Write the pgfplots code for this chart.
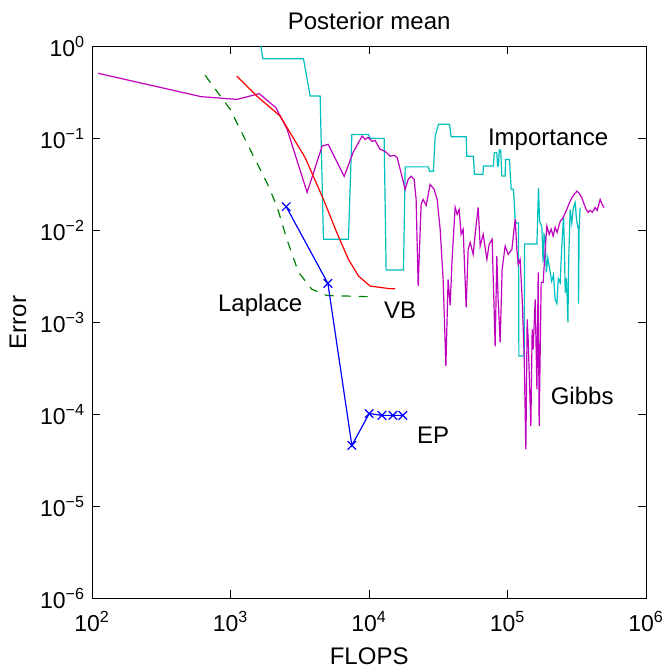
\documentclass[border=0pt]{standalone}
\usepackage{fontspec}
\setmainfont{Liberation Sans}
\usepackage{pgfplots}
\pgfplotsset{compat=1.18}
\definecolor{mmag}{rgb}{0.75,0,0.75}
\definecolor{mcyan}{rgb}{0,0.75,0.75}
\definecolor{mgreen}{rgb}{0,0.5,0}
\newcommand\logtick{\pgfmathtruncatemacro\ee{round(\tick)}\ifnum\ee<0 10\textsuperscript{\char"2212\relax\the\numexpr-\ee\relax}\else 10\textsuperscript{\ee}\fi}
\begin{document}
\begin{tikzpicture}
\begin{axis}[
  scale only axis, width=277pt, height=276pt,
  xmode=log, ymode=log, log basis x=10, log basis y=10,
  xmin=100, xmax=1e6, ymin=1e-6, ymax=1,
  font=\fontsize{12}{14}\selectfont,
  ticklabel style={font=\fontsize{11.5}{13}\selectfont},
  title={Posterior mean}, xlabel={FLOPS}, ylabel={Error},
  title style={yshift=-1pt},
  xlabel style={yshift=-1pt},
  xticklabel={\logtick},
  yticklabel={\logtick},
  xticklabel style={yshift=-3pt},
  xtick={100,1000,10000,100000,1000000},
  ytick={1e-6,1e-5,1e-4,1e-3,1e-2,1e-1,1},
  tick align=inside, major tick length=4pt, minor tick length=2pt,
  every tick/.style={black, line width=0.4pt},
  axis line style={line width=0.6pt},
  clip=true,
]
% Importance
\addplot[mcyan, line width=0.6pt] coordinates {
(1589,1.5)(1708,0.734)(3355,0.734)(3750,0.288)(4426,0.288)(4677,0.008)(7088,0.008)
(7500,0.11)(9886,0.11)(10165,0.1)(12826,0.1)(13262,0.0037)(17690,0.0037)
(18200,0.049)(26800,0.049)(27250,0.044)(29100,0.044)(29970,0.106)(31660,0.142)
(38000,0.142)(39100,0.104)(50150,0.104)(50700,0.064)(56600,0.064)(57500,0.0407)
(66200,0.0407)(66900,0.05)(78900,0.05)(80000,0.07)(83500,0.07)(84500,0.05)
(85800,0.05)(87000,0.075)(89000,0.075)(90800,0.039)(95900,0.039)(96500,0.059)
(103000,0.059)(106000,0.028)(110100,0.028)(113300,0.013)(116000,0.012)(119700,0.012)
(120500,0.00043)(131500,0.00043)(132500,0.0071)(162600,0.0071)(166900,0.029)
(170000,0.0125)(176500,0.011)(180000,0.0045)(183000,0.009)(186500,0.0085)
(190000,0.0035)(195000,0.005)(202800,0.0035)(208000,0.0028)(214300,0.0033)
(220000,0.0018)(226600,0.0016)(232000,0.003)(239400,0.0027)(245000,0.006)
(253000,0.0143)(256000,0.008)(260300,0.0021)(266000,0.003)(272200,0.001)
(276000,0.005)(282600,0.0169)(290000,0.012)(298500,0.0177)(307000,0.02)
(315000,0.0125)(324400,0.0102)(325000,0.0016)(328000,0.0102)(333600,0.0177)
};
% Gibbs
\addplot[mmag, line width=0.6pt] coordinates {
(110,0.51)(612,0.284)(1109,0.265)(1607,0.306)(2120,0.216)(2559,0.125)(3565,0.0259)
(4580,0.0826)(5058,0.086)(6606,0.0386)(7661,0.0705)(8896,0.106)(9354,0.0975)
(9840,0.1025)(10510,0.0927)(11040,0.095)(11990,0.076)(13050,0.0722)(14180,0.064)
(15160,0.0654)(15920,0.062)(16740,0.046)(18200,0.0279)(19130,0.0358)(20100,0.0388)
(21120,0.0358)(21830,0.0217)(22580,0.00248)(23720,0.0192)(24520,0.0217)(25800,0.0187)
(27560,0.0316)(29440,0.0279)(30960,0.0217)(32550,0.0103)(34200,0.00293)(35800,0.000335)
(37150,0.00293)(38440,0.00153)(39700,0.00484)(41760,0.0178)(43170,0.0149)(44640,0.0169)
(46130,0.00905)(47700,0.0103)(50150,0.00146)(51840,0.0062)(53600,0.0074)(56360,0.00548)
(59250,0.0116)(61260,0.0178)(63320,0.00675)(66550,0.00905)(70790,0.00484)(73500,0.00705)
(77250,0.008)(81220,0.00055)(83530,0.00526)(85350,0.00178)(88240,0.000606)(91200,0.00377)
(95880,0.00675)(100900,0.00548)(107200,0.0062)(113300,0.0132)(116500,0.0062)(119100,0.00427)
(123000,0.00484)(127300,0.00178)(131500,0.00043)(135300,0.0000417)(138300,0.00108)
(140600,0.00065)(147000,0.0000746)(150300,0.00084)(152800,0.00051)(158000,0.00178)
(162600,0.000187)(166100,0.00349)(168800,0.0000746)(174500,0.00272)(180400,0.00272)
(186600,0.0062)(191800,0.0111)(199400,0.00905)(206100,0.0103)(212900,0.00867)
(220100,0.0108)(227500,0.0095)(239200,0.0125)(251600,0.0138)(267400,0.0169)
(277900,0.0197)(292300,0.0229)(302200,0.0246)(316200,0.0267)(328300,0.0253)
(343400,0.0227)(356500,0.0192)(368800,0.0169)(381100,0.0157)(394300,0.0165)
(407600,0.0157)(428300,0.0177)(442600,0.0165)(465400,0.0217)(481000,0.0192)(497300,0.0177)
};
% Laplace
\addplot[mgreen, dash pattern=on 4.5pt off 4pt, line width=0.6pt] coordinates {
(654,0.484)(991,0.207)(1462,0.064)(1825,0.033)(2155,0.0184)(2545,0.008)(3090,0.0035)
(3857,0.00229)(4950,0.00196)(10000,0.0019)
};
% VB
\addplot[red, line width=0.6pt] coordinates {
(1109,0.475)(1545,0.288)(2275,0.175)(3450,0.0617)(4677,0.0217)(5845,0.0094)
(7088,0.00484)(8370,0.00319)(10160,0.00248)(14190,0.00232)(15400,0.00232)
};
% EP
\addplot[blue, line width=0.6pt, mark=x, mark size=3pt] coordinates {
(2518,0.0181)(5035,0.00265)(7500,0.000046)(10000,0.000102)(12360,0.0000975)
(14840,0.0000975)(17500,0.0000975)
};
\node at (axis cs:1633,0.00155) {Laplace};
\node at (axis cs:16740,0.00136) {VB};
\node at (axis cs:195800,0.097) {Importance};
\node at (axis cs:345000,0.000158) {Gibbs};
\node at (axis cs:28950,0.000059) {EP};
\end{axis}
\path ([yshift=2.5pt]current bounding box.north) -- ++(0,0);
\path ([xshift=-1.5pt]current bounding box.west) -- ++(0,0);
\end{tikzpicture}
\end{document}
